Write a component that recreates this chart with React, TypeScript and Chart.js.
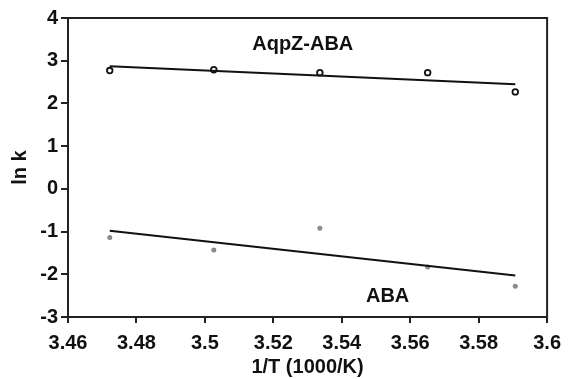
import React, { useEffect, useRef } from "react";
import { Chart, registerables } from "chart.js";

Chart.register(...registerables);

const invT = [3.4722, 3.5026, 3.5336, 3.5651, 3.5907];
const aqpzLnK = [2.77, 2.79, 2.72, 2.72, 2.27];
const abaLnK = [-1.14, -1.43, -0.92, -1.83, -2.28];
const fitX = [3.4722, 3.5907];
const aqpzFit = [2.87, 2.45];
const abaFit = [-0.98, -2.03];
const labelTexts = ["AqpZ-ABA", "ABA"];
const labelX = [3.5286, 3.5534];
const labelY = [3.37, -2.52];

const FONT = "'Liberation Sans', Arial, sans-serif";

const framePlugin = {
  id: "frame",
  afterDatasetsDraw(chart: any) {
    const { ctx, chartArea, scales } = chart;
    ctx.save();
    ctx.strokeStyle = "#222";
    ctx.lineWidth = 2;
    ctx.strokeRect(chartArea.left, chartArea.top, chartArea.right - chartArea.left, chartArea.bottom - chartArea.top);
    ctx.fillStyle = "#111";
    ctx.font = `bold 20px ${FONT}`;
    ctx.textAlign = "center";
    ctx.textBaseline = "middle";
    labelTexts.forEach((t, i) => {
      ctx.fillText(t, scales.x.getPixelForValue(labelX[i]), scales.y.getPixelForValue(labelY[i]));
    });
    ctx.restore();
  },
};

export default function App() {
  const ref = useRef<HTMLCanvasElement>(null);
  useEffect(() => {
    document.body.style.margin = "0";
    const chart = new Chart(ref.current!, {
      type: "scatter",
      data: {
        datasets: [
          {
            label: "AqpZ-ABA fit",
            data: fitX.map((x, i) => ({ x, y: aqpzFit[i] })),
            showLine: true,
            borderColor: "#111",
            borderWidth: 2,
            pointRadius: 0,
          },
          {
            label: "ABA fit",
            data: fitX.map((x, i) => ({ x, y: abaFit[i] })),
            showLine: true,
            borderColor: "#111",
            borderWidth: 2,
            pointRadius: 0,
          },
          {
            label: "AqpZ-ABA",
            data: invT.map((x, i) => ({ x, y: aqpzLnK[i] })),
            pointRadius: 2.8,
            pointBorderWidth: 1.8,
            pointBorderColor: "#111",
            pointBackgroundColor: "#fff",
          },
          {
            label: "ABA",
            data: invT.map((x, i) => ({ x, y: abaLnK[i] })),
            pointRadius: 2.5,
            pointBorderWidth: 0,
            pointBackgroundColor: "#8a8a8a",
            pointBorderColor: "#8a8a8a",
          },
        ],
      },
      options: {
        animation: false,
        responsive: false,
        layout: { padding: { top: 18, right: 20, left: 0, bottom: 0 } },
        plugins: { legend: { display: false }, tooltip: { enabled: false } },
        scales: {
          x: {
            type: "linear",
            min: 3.46,
            max: 3.6,
            afterFit: (s: any) => { s.height = 62; },
            ticks: {
              stepSize: 0.02,
              color: "#111",
              padding: 8,
              font: { family: FONT, size: 20, weight: "bold" },
              callback: (v: any) => String(Number(Number(v).toFixed(2))),
            },
            grid: { drawOnChartArea: false, tickLength: 6, color: "#222", lineWidth: 2 },
            border: { color: "#222", width: 2 },
            title: {
              display: true,
              text: "1/T (1000/K)",
              color: "#111",
              font: { family: FONT, size: 20, weight: "bold" },
              padding: { top: 0, bottom: 0 },
            },
          },
          y: {
            min: -3,
            max: 4,
            afterFit: (s: any) => { s.width = 68; },
            ticks: {
              stepSize: 1,
              color: "#111",
              padding: 3,
              font: { family: FONT, size: 20, weight: "bold" },
            },
            grid: { drawOnChartArea: false, tickLength: 7, color: "#222", lineWidth: 2 },
            border: { color: "#222", width: 2 },
            title: {
              display: true,
              text: "ln k",
              color: "#111",
              font: { family: FONT, size: 20, weight: "bold" },
              padding: { top: 8, bottom: 0 },
            },
          },
        },
      },
      plugins: [framePlugin],
    });
    return () => chart.destroy();
  }, []);
  return (
    <div style={{ width: 569, height: 379, background: "#fff" }}>
      <canvas ref={ref} width={569} height={379} style={{ display: "block" }} />
    </div>
  );
}
